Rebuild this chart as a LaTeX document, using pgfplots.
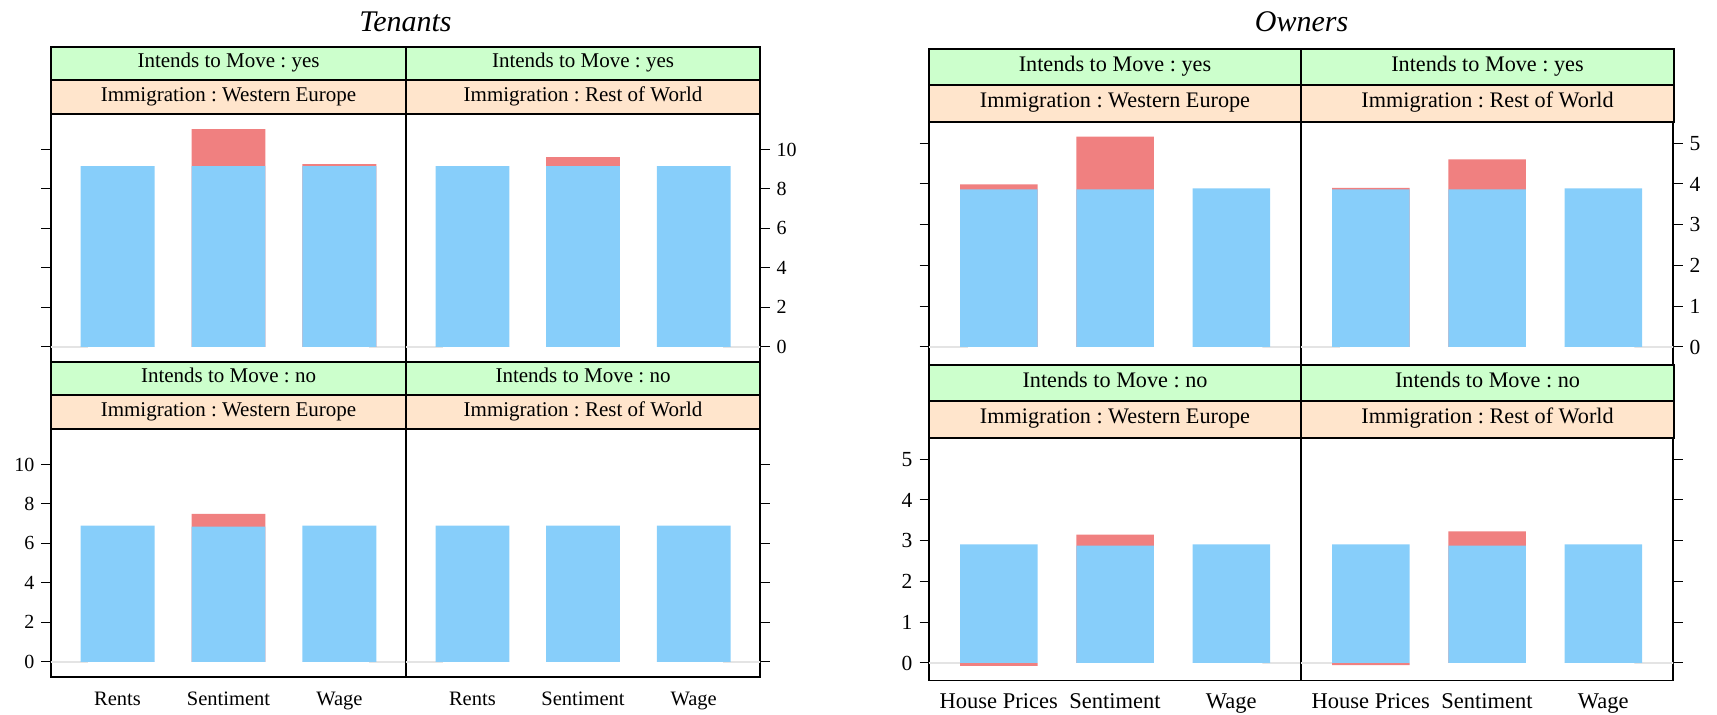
\documentclass[border=0pt]{standalone}
\usepackage{fontspec}
\setmainfont{Liberation Serif}
\usepackage{pgfplots}
\usepackage{pgfplotstable}
\pgfplotsset{compat=1.18}
\frenchspacing

\definecolor{barblue}{RGB}{135,206,250}
\definecolor{barred}{RGB}{240,128,128}
\definecolor{stripgreen}{RGB}{204,255,204}
\definecolor{striporange}{RGB}{255,229,204}
\definecolor{refgray}{RGB}{228,228,228}

% blue = base part, red = change (negative values hang below zero)
\pgfplotstableread{
x blue red
1 9.16 0
2 9.16 1.87
3 9.16 0.10
}\tenYesWE
\pgfplotstableread{
x blue red
1 9.16 0
2 9.16 0.45
3 9.16 0
}\tenYesRW
\pgfplotstableread{
x blue red
1 6.90 0
2 6.85 0.65
3 6.90 0
}\tenNoWE
\pgfplotstableread{
x blue red
1 6.90 0
2 6.90 0
3 6.90 0
}\tenNoRW
\pgfplotstableread{
x blue red
1 3.865 0.125
2 3.865 1.295
3 3.89 0
}\ownYesWE
\pgfplotstableread{
x blue red
1 3.865 0.04
2 3.865 0.735
3 3.89 0
}\ownYesRW
\pgfplotstableread{
x blue red
1 2.91 -0.07
2 2.88 0.27
3 2.91 0
}\ownNoWE
\pgfplotstableread{
x blue red
1 2.91 -0.05
2 2.88 0.35
3 2.91 0
}\ownNoRW

% strip: x0, x1, ytop, ybottom (pt, measured downwards), fill, text, font size
\newcommand{\strip}[7]{%
  \draw[line width=0.6pt, fill=#5] (#1pt,-#3pt) rectangle (#2pt,-#4pt);
  \node[font=\rmfamily\fontsize{#7}{#7}\selectfont, inner sep=0pt]
    at ({(#1+#2)/2*1pt}, {-(#3+#4)/2*1pt}) {\strut #6};
}

\newcommand{\bars}[1]{%
  \addplot[refgray, line width=1pt, forget plot] coordinates {(0.4,0) (3.6,0)};
  \addplot[fill=barred, draw=none]
    table[x=x, y expr={\thisrow{red}>0 ? \thisrow{blue}+\thisrow{red} : \thisrow{red}}] {#1};
  \addplot[fill=barblue, draw=none] table[x=x, y=blue] {#1};
}

\pgfplotsset{
  panel/.style={
    scale only axis, anchor=north west,
    ybar, bar width=0.6667, bar shift=0pt,
    xmin=0.4, xmax=3.6,
    axis line style={line width=0.6pt},
    tick align=outside, major tick length=4.75pt,
    tick style={line width=0.5pt, black},
    xtick={1,2,3}, xtick style={draw=none},
    /pgf/number format/assume math mode=true,
  },
  tenants/.style={panel, width=177.5pt, height=124pt,
    ymin=-0.77, ymax=11.80, ytick={0,2,...,10},
    yticklabel style={font=\rmfamily\fontsize{10}{12}\selectfont},
    xticklabel style={font=\rmfamily\fontsize{10.25}{12}\selectfont, yshift=0.8pt},
    xticklabels={Rents,Sentiment,Wage}},
  owners/.style={panel, width=186pt, height=121.25pt,
    ymin=-0.43, ymax=5.52, ytick={0,1,...,5},
    yticklabel style={font=\rmfamily\fontsize{10.75}{12}\selectfont},
    xticklabel style={font=\rmfamily\fontsize{11.25}{12}\selectfont, yshift=1.5pt},
    xticklabels={House Prices,Sentiment,Wage}},
  toprow/.style={xticklabels={}},
  leftside/.style={ytick pos=left},
  rightside/.style={ytick pos=right, yticklabel pos=right},
  nolabels/.style={yticklabels={}},
}

\begin{document}
\begin{tikzpicture}

% ---------------- Tenants ----------------
\node[font=\rmfamily\fontsize{15}{18}\selectfont\itshape, anchor=base] at (202.75pt,-16pt) {Tenants};

\begin{axis}[tenants, toprow, leftside, nolabels, at={(25.5pt,-57pt)}]
\bars{\tenYesWE}
\end{axis}
\begin{axis}[tenants, toprow, rightside, width=177pt, at={(203pt,-57pt)}]
\bars{\tenYesRW}
\end{axis}
\begin{axis}[tenants, leftside, at={(25.5pt,-214.5pt)}]
\bars{\tenNoWE}
\end{axis}
\begin{axis}[tenants, rightside, nolabels, width=177pt, at={(203pt,-214.5pt)}]
\bars{\tenNoRW}
\end{axis}

\strip{25.5}{203}{23.5}{40}{stripgreen}{Intends to Move : yes}{10.5}
\strip{203}{380}{23.5}{40}{stripgreen}{Intends to Move : yes}{10.5}
\strip{25.5}{203}{40}{57}{striporange}{Immigration : Western Europe}{10.5}
\strip{203}{380}{40}{57}{striporange}{Immigration : Rest of World}{10.5}
\strip{25.5}{203}{181}{197.5}{stripgreen}{Intends to Move : no}{10.5}
\strip{203}{380}{181}{197.5}{stripgreen}{Intends to Move : no}{10.5}
\strip{25.5}{203}{197.5}{214.5}{striporange}{Immigration : Western Europe}{10.5}
\strip{203}{380}{197.5}{214.5}{striporange}{Immigration : Rest of World}{10.5}

% ---------------- Owners ----------------
\node[font=\rmfamily\fontsize{15}{18}\selectfont\itshape, anchor=base] at (650.75pt,-16pt) {Owners};

\begin{axis}[owners, toprow, leftside, nolabels, at={(464.5pt,-61pt)}]
\bars{\ownYesWE}
\end{axis}
\begin{axis}[owners, toprow, rightside, at={(650.5pt,-61pt)}]
\bars{\ownYesRW}
\end{axis}
\begin{axis}[owners, leftside, at={(464.5pt,-219pt)}]
\bars{\ownNoWE}
\end{axis}
\begin{axis}[owners, rightside, nolabels, at={(650.5pt,-219pt)}]
\bars{\ownNoRW}
\end{axis}

\strip{464.5}{650.5}{24.5}{42.5}{stripgreen}{Intends to Move : yes}{11.1}
\strip{650.5}{837}{24.5}{42.5}{stripgreen}{Intends to Move : yes}{11.1}
\strip{464.5}{650.5}{42.5}{61}{striporange}{Immigration : Western Europe}{11.1}
\strip{650.5}{837}{42.5}{61}{striporange}{Immigration : Rest of World}{11.1}
\strip{464.5}{650.5}{182.5}{200.5}{stripgreen}{Intends to Move : no}{11.1}
\strip{650.5}{837}{182.5}{200.5}{stripgreen}{Intends to Move : no}{11.1}
\strip{464.5}{650.5}{200.5}{219}{striporange}{Immigration : Western Europe}{11.1}
\strip{650.5}{837}{200.5}{219}{striporange}{Immigration : Rest of World}{11.1}

\pgfresetboundingbox
\path (0pt,0pt) rectangle (858.5pt,-357.5pt);
\end{tikzpicture}
\end{document}
